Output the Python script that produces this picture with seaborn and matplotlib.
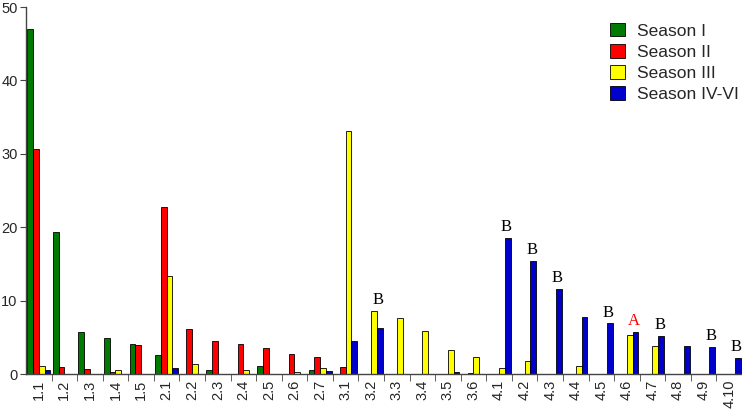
import pandas as pd
import numpy as np
import matplotlib
matplotlib.use('Agg')
import matplotlib.pyplot as plt
import seaborn as sns
from matplotlib.ticker import FixedLocator

categories = ['1.1', '1.2', '1.3', '1.4', '1.5',
              '2.1', '2.2', '2.3', '2.4', '2.5', '2.6', '2.7',
              '3.1', '3.2', '3.3', '3.4', '3.5', '3.6',
              '4.1', '4.2', '4.3', '4.4', '4.5', '4.6', '4.7', '4.8', '4.9', '4.10']

season_1 = [47.0, 19.3, 5.8, 4.9, 4.1,
            2.6, 0.0, 0.6, 0.05, 1.1, 0.05, 0.5,
            0, 0, 0, 0, 0, 0,
            0, 0, 0, 0, 0, 0.05, 0, 0, 0, 0]
season_2 = [30.6, 0.9, 0.7, 0.3, 3.9,
            22.7, 6.2, 4.5, 4.1, 3.5, 2.7, 2.3,
            0.9, 0, 0, 0, 0, 0.2,
            0, 0.05, 0, 0, 0, 0, 0, 0, 0, 0]
season_3 = [1.1, 0, 0, 0.5, 0,
            13.4, 1.4, 0, 0.5, 0, 0.3, 0.8,
            33.1, 8.6, 7.7, 5.9, 3.3, 2.3,
            0.8, 1.8, 0, 1.1, 0, 5.3, 3.8, 0, 0, 0]
season_4 = [0.5, 0, 0, 0, 0,
            0.8, 0, 0, 0, 0, 0, 0.4,
            4.5, 6.3, 0, 0.05, 0.3, 0.05,
            18.6, 15.4, 11.6, 7.8, 6.9, 5.8, 5.2, 3.8, 3.7, 2.2]

series_names = ['Season I', 'Season II', 'Season III', 'Season IV-VI']
palette = ['#007a00', '#ff0000', '#ffff00', '#0000cc']

# letters written over some groups
note_cats = ['3.2', '4.1', '4.2', '4.3', '4.5', '4.6', '4.7', '4.9', '4.10']
note_text = ['B', 'B', 'B', 'B', 'B', 'A', 'B', 'B', 'B']
note_color = ['black'] * 5 + ['red'] + ['black'] * 3

df = pd.DataFrame({
    'category': categories * 4,
    'season': np.repeat(series_names, len(categories)),
    'value': season_1 + season_2 + season_3 + season_4,
})

sns.set_style('white')
plt.rcParams['font.family'] = ['Liberation Sans', 'DejaVu Sans']

fig = plt.figure(figsize=(7.42, 4.12), dpi=100)
ax = fig.add_axes([0.035, 0.092, 0.965, 0.891])

sns.barplot(data=df, x='category', y='value', hue='season', order=categories,
            hue_order=series_names, palette=palette, width=0.9,
            edgecolor='black', linewidth=0.6, saturation=1, ax=ax)

ax.set_ylim(0, 50)
ax.set_xlim(-0.5, len(categories) - 0.5)
ax.set_yticks([0, 10, 20, 30, 40, 50])
ax.set_xlabel('')
ax.set_ylabel('')
ax.tick_params(axis='y', labelsize=10.5, length=4, left=True, color='#444444', pad=2)
ax.tick_params(axis='x', labelsize=10.5, rotation=90, length=0, pad=4)
ax.xaxis.set_minor_locator(FixedLocator(np.arange(0.5, len(categories) - 0.5, 1)))
ax.tick_params(axis='x', which='minor', length=5, bottom=True, color='#444444')
sns.despine(ax=ax)
for s in ['left', 'bottom']:
    ax.spines[s].set_color('#444444')
    ax.spines[s].set_linewidth(1)

totals = df.groupby('category')['value'].max()
for cat, txt, col in zip(note_cats, note_text, note_color):
    i = categories.index(cat)
    top = totals[cat]
    ax.text(i + 0.28, top + 0.4, txt, color=col, ha='center', va='bottom',
            fontsize=12, family='Liberation Serif')

leg = ax.legend(loc='upper right', bbox_to_anchor=(1.018, 1.0), frameon=False,
                fontsize=12.5, handlelength=0.85, handleheight=0.85,
                handletextpad=0.7, labelspacing=0.3)

fig.savefig('out.png', dpi=100)
